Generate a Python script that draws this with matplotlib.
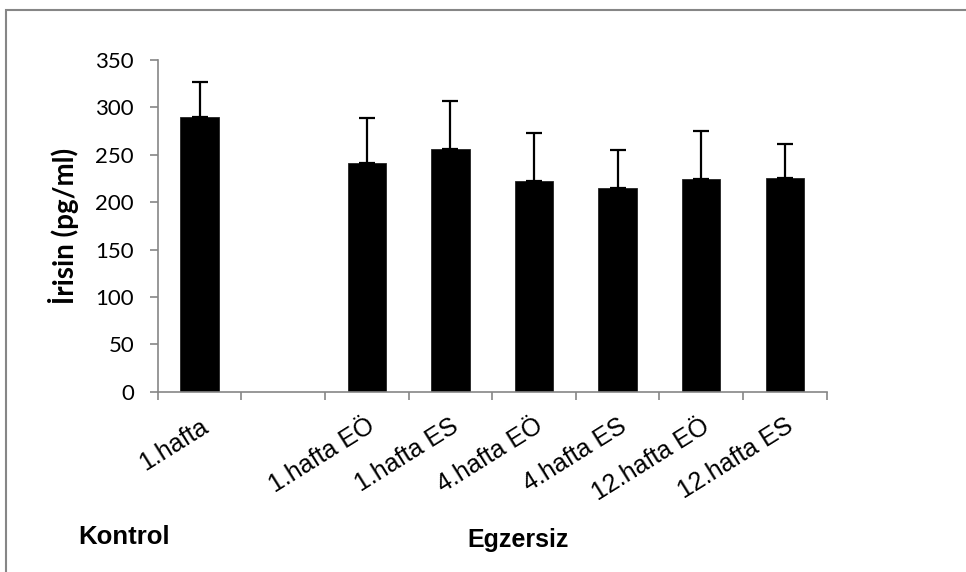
import numpy as np
import matplotlib
matplotlib.use("Agg")
import matplotlib.pyplot as plt
from matplotlib.patches import Rectangle

# veriler
labels = ['1.hafta', '', '1.hafta EÖ', '1.hafta ES', '4.hafta EÖ',
          '4.hafta ES', '12.hafta EÖ', '12.hafta ES']
irisin = [290, np.nan, 241, 256, 222, 215, 224, 226]
sd = [37, np.nan, 48, 51, 51, 40, 51, 35]

W, H = 966, 572
fig = plt.figure(figsize=(W / 100, H / 100), dpi=100)
ax = fig.add_axes([157.7 / W, 1 - 391.7 / H, 669 / W, 331.7 / H])

x = np.arange(len(labels))
ax.bar(x, irisin, width=0.46, color='black', edgecolor='#222222', linewidth=0.6, zorder=2)
ax.errorbar(x, irisin, yerr=[np.zeros(len(sd)), sd], fmt='none', ecolor='black',
            elinewidth=1.6, capsize=6, capthick=1.6, zorder=3)

ax.set_xlim(-0.5, len(labels) - 0.5)
ax.set_ylim(0, 350)
ax.set_yticks(range(0, 351, 50))

for s in ['top', 'right']:
    ax.spines[s].set_visible(False)
for s in ['left', 'bottom']:
    ax.spines[s].set_color('#868686')
    ax.spines[s].set_linewidth(1.2)

ax.tick_params(axis='y', length=6, width=1.2, color='#868686', pad=11, labelsize=16)
for t in ax.get_yticklabels():
    t.set_family('Lato')

ax.set_xticks(x)
ax.set_xticklabels(labels, rotation=32, ha='right', va='top', rotation_mode='anchor',
                   family='Liberation Sans', fontsize=18)
ax.set_xticks(np.arange(-0.5, len(labels)), minor=True)
ax.tick_params(axis='x', which='major', length=0, pad=16)
ax.tick_params(axis='x', which='minor', length=6, width=1.2, color='#868686')

ax.set_ylabel('İrisin (pg/ml)', family='Lato', fontweight='bold', fontsize=20)
ax.yaxis.set_label_coords((79 - 157.7) / 669, (391.7 - 226) / 331.7)

# grup adları
fig.text(124 / W, 1 - 537 / H, 'Kontrol', ha='center', va='center',
         family='Liberation Sans', fontweight='bold', fontsize=18.5)
fig.text(518 / W, 1 - 540 / H, 'Egzersiz', ha='center', va='center',
         family='Liberation Sans', fontweight='bold', fontsize=18)

# grafik alanı çerçevesi
fig.add_artist(Rectangle((6 / W, -0.5), 2, 1.5 - 10 / H, transform=fig.transFigure,
                         fill=False, edgecolor='#868686', linewidth=1.5))

fig.savefig('out.png', dpi=100)
